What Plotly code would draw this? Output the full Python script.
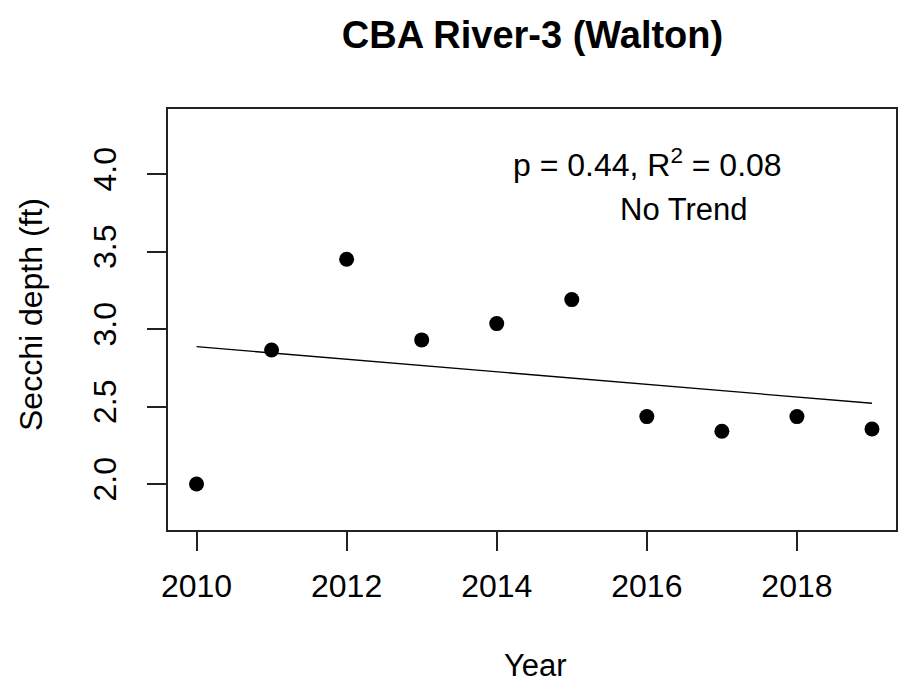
import numpy as np
import plotly.graph_objects as go

years = [2010, 2011, 2012, 2013, 2014, 2015, 2016, 2017, 2018, 2019]
secchi = [2.00, 2.865, 3.45, 2.93, 3.035, 3.19, 2.435, 2.34, 2.435, 2.355]
x_ticks = [2010, 2012, 2014, 2016, 2018]
y_ticks = [2.0, 2.5, 3.0, 3.5, 4.0]
y_tick_labels = ["2.0", "2.5", "3.0", "3.5", "4.0"]
title_text = "CBA River-3 (Walton)"
stats_text = "p = 0.44, R<sup>2</sup> = 0.08"
trend_text = "No Trend"

slope, intercept = np.polyfit(years, secchi, 1)
fit_x = [years[0], years[-1]]
fit_y = [intercept + slope * v for v in fit_x]

FONT = "Arial, Liberation Sans, sans-serif"
W, H = 898, 688
L, R, T, B = 168, 2, 109, 158

fig = go.Figure()
fig.add_trace(go.Scatter(x=fit_x, y=fit_y, mode="lines",
                         line=dict(color="black", width=1.3), showlegend=False))
fig.add_trace(go.Scatter(x=years, y=secchi, mode="markers",
                         marker=dict(color="black", size=15), showlegend=False))

axis_common = dict(showgrid=False, zeroline=False, showline=True, linecolor="#222",
                   linewidth=1.5, mirror=True, ticks="outside", ticklen=19,
                   tickwidth=1.5, tickcolor="#222", automargin=False,
                   tickfont=dict(family=FONT, size=32, color="black"))

fig.update_xaxes(range=[2009.62, 2019.32], tickvals=x_ticks,
                 ticktext=[str(v) for v in x_ticks], ticklabelstandoff=8,
                 **axis_common)
fig.update_yaxes(range=[1.703, 4.42], tickvals=y_ticks, ticktext=y_tick_labels,
                 tickangle=-90, ticklabelstandoff=18, **axis_common)

pw = W - L - R
ph = H - T - B
def px_x(p):
    return (p - L) / pw
def px_y(p):
    return (H - B - p) / ph

fig.update_layout(
    width=W, height=H,
    margin=dict(l=L, r=R, t=T, b=B),
    plot_bgcolor="white", paper_bgcolor="white",
    title=dict(text="<b>" + title_text + "</b>", x=px_x(532.5), xref="paper",
               xanchor="center", y=1 - 35 / H, yref="container", yanchor="middle",
               font=dict(family=FONT, size=38, color="black")),
    annotations=[
        dict(text=stats_text, x=px_x(647.5), y=px_y(163), xref="paper", yref="paper",
             xanchor="center", yanchor="middle", showarrow=False,
             font=dict(family=FONT, size=32, color="black")),
        dict(text=trend_text, x=px_x(683.5), y=px_y(209), xref="paper", yref="paper",
             xanchor="center", yanchor="middle", showarrow=False,
             font=dict(family=FONT, size=31, color="black")),
        dict(text="Year", x=px_x(535), y=px_y(665), xref="paper", yref="paper",
             xanchor="center", yanchor="middle", showarrow=False,
             font=dict(family=FONT, size=31, color="black")),
        dict(text="Secchi depth (ft)", x=px_x(31), y=px_y(315), xref="paper", yref="paper",
             xanchor="center", yanchor="middle", showarrow=False, textangle=-90,
             font=dict(family=FONT, size=32, color="black")),
    ],
)

fig.write_html("out.html", config={"displayModeBar": False},
               post_script="document.body.style.margin='0';document.body.style.overflow='hidden';")
